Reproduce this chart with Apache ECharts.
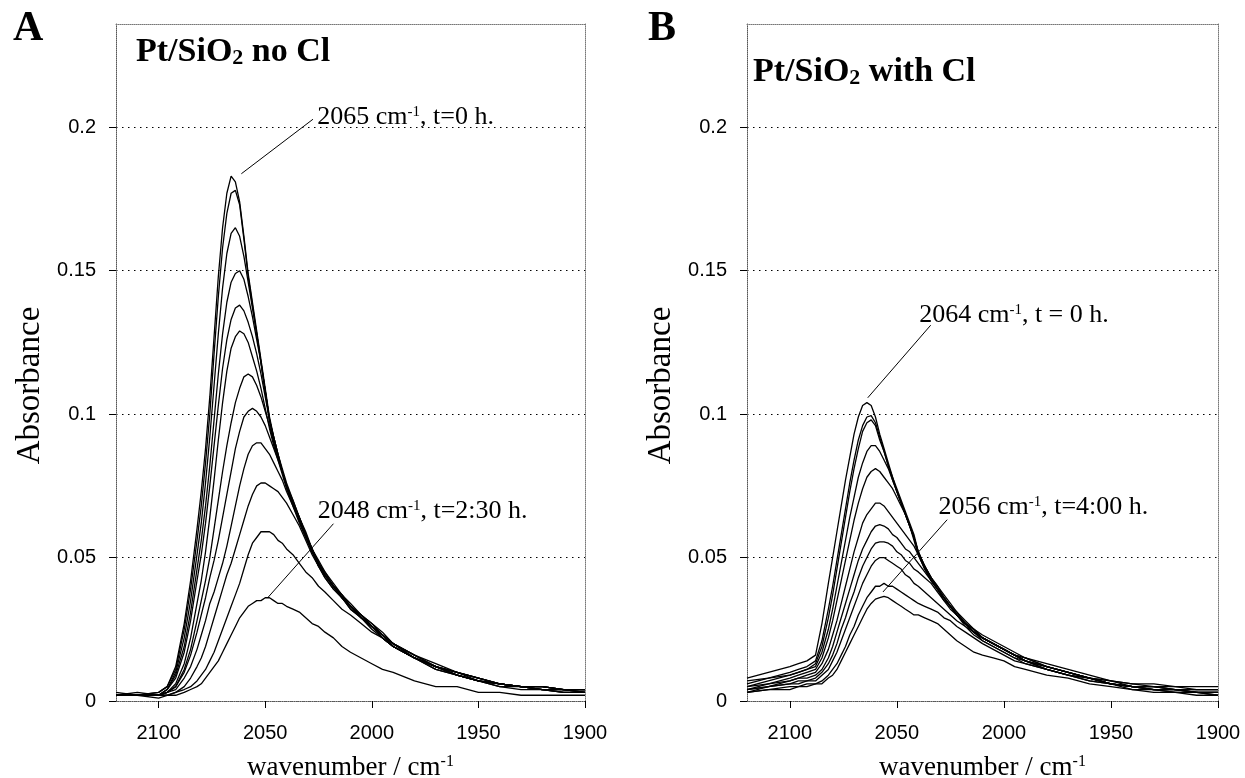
<!DOCTYPE html>
<html><head><meta charset="utf-8">
<script src="https://cdn.jsdelivr.net/npm/echarts@6/dist/echarts.min.js"></script>
<style>html,body{margin:0;padding:0;background:#fff}#c{width:1245px;height:778px}</style>
</head><body><div id="c"></div>
<script>
// shared wavenumber grid (cm-1)
const WN = [2120,2110,2100,2096,2092,2088,2085,2082,2080,2078,2076,2074,2072,2070,2068,2066,2064,2062,2060,2058,2056,2054,2052,2050,2048,2046,2044,2042,2040,2037,2034,2031,2028,2025,2022,2018,2014,2010,2005,2000,1995,1990,1980,1970,1960,1950,1940,1930,1920,1910,1900];

// Panel A: Pt/SiO2 no Cl (absorbance, t = 0 ... 2:30 h)
const A1 = [0.002,0.002,0.003,0.005,0.012,0.027,0.042,0.060,0.073,0.088,0.106,0.127,0.148,0.165,0.177,0.183,0.181,0.174,0.162,0.149,0.139,0.129,0.119,0.109,0.099,0.092,0.086,0.081,0.076,0.070,0.064,0.059,0.053,0.049,0.045,0.041,0.037,0.034,0.030,0.027,0.024,0.020,0.016,0.013,0.010,0.008,0.006,0.005,0.005,0.004,0.004];
const A2 = [0.003,0.002,0.003,0.005,0.011,0.025,0.039,0.056,0.068,0.083,0.100,0.121,0.141,0.158,0.170,0.177,0.178,0.173,0.161,0.148,0.138,0.128,0.118,0.108,0.098,0.091,0.085,0.080,0.075,0.069,0.063,0.058,0.052,0.048,0.044,0.040,0.036,0.033,0.029,0.026,0.023,0.019,0.015,0.012,0.009,0.007,0.006,0.005,0.004,0.004,0.003];
const A3 = [0.002,0.003,0.002,0.004,0.010,0.022,0.035,0.051,0.062,0.076,0.092,0.110,0.128,0.144,0.156,0.163,0.165,0.162,0.155,0.146,0.137,0.128,0.118,0.108,0.098,0.092,0.086,0.080,0.075,0.069,0.064,0.058,0.053,0.048,0.044,0.040,0.037,0.033,0.030,0.026,0.023,0.020,0.016,0.012,0.010,0.008,0.006,0.005,0.005,0.004,0.004];
const A4 = [0.002,0.002,0.002,0.004,0.009,0.019,0.031,0.046,0.056,0.068,0.082,0.098,0.114,0.128,0.139,0.146,0.149,0.150,0.147,0.141,0.134,0.126,0.118,0.108,0.098,0.091,0.085,0.080,0.075,0.069,0.063,0.058,0.052,0.048,0.044,0.040,0.036,0.033,0.029,0.026,0.022,0.019,0.015,0.012,0.009,0.007,0.006,0.005,0.004,0.004,0.003];
const A5 = [0.002,0.002,0.002,0.004,0.008,0.017,0.028,0.042,0.051,0.062,0.075,0.089,0.103,0.116,0.126,0.133,0.137,0.138,0.136,0.132,0.127,0.121,0.114,0.106,0.098,0.092,0.086,0.080,0.075,0.070,0.064,0.058,0.053,0.048,0.044,0.040,0.037,0.033,0.030,0.026,0.023,0.020,0.015,0.012,0.010,0.008,0.006,0.005,0.005,0.004,0.004];
const A6 = [0.002,0.002,0.002,0.003,0.006,0.013,0.022,0.034,0.042,0.052,0.064,0.077,0.091,0.104,0.115,0.123,0.127,0.129,0.128,0.125,0.120,0.115,0.109,0.102,0.095,0.089,0.084,0.079,0.074,0.068,0.063,0.057,0.052,0.047,0.043,0.039,0.036,0.032,0.029,0.025,0.022,0.019,0.015,0.011,0.009,0.007,0.005,0.004,0.004,0.003,0.003];
const A7 = [0.002,0.002,0.002,0.003,0.005,0.011,0.018,0.028,0.035,0.042,0.050,0.060,0.070,0.080,0.089,0.097,0.104,0.109,0.113,0.114,0.113,0.110,0.106,0.101,0.096,0.090,0.085,0.080,0.075,0.069,0.064,0.058,0.053,0.048,0.045,0.040,0.037,0.033,0.030,0.027,0.023,0.020,0.016,0.012,0.010,0.007,0.006,0.005,0.005,0.004,0.004];
const A8 = [0.002,0.002,0.002,0.003,0.005,0.010,0.016,0.024,0.030,0.036,0.043,0.049,0.056,0.064,0.072,0.080,0.088,0.094,0.099,0.101,0.102,0.101,0.099,0.096,0.092,0.088,0.084,0.080,0.075,0.069,0.063,0.058,0.052,0.048,0.044,0.040,0.036,0.033,0.029,0.026,0.023,0.019,0.015,0.012,0.009,0.007,0.005,0.005,0.004,0.003,0.003];
const A9 = [0.002,0.002,0.002,0.003,0.004,0.008,0.012,0.018,0.023,0.028,0.034,0.038,0.043,0.048,0.054,0.061,0.068,0.075,0.081,0.086,0.089,0.090,0.090,0.088,0.086,0.083,0.080,0.077,0.073,0.068,0.062,0.057,0.052,0.047,0.044,0.040,0.036,0.033,0.029,0.026,0.023,0.020,0.015,0.012,0.009,0.007,0.006,0.005,0.004,0.004,0.003];
const A10 = [0.002,0.002,0.002,0.002,0.003,0.005,0.008,0.012,0.015,0.019,0.024,0.029,0.034,0.039,0.044,0.048,0.053,0.058,0.063,0.068,0.072,0.075,0.076,0.076,0.075,0.074,0.073,0.071,0.069,0.065,0.061,0.056,0.051,0.047,0.043,0.039,0.036,0.032,0.029,0.026,0.022,0.019,0.015,0.011,0.009,0.007,0.006,0.005,0.004,0.003,0.003];
const A11 = [0.002,0.002,0.002,0.002,0.003,0.004,0.005,0.007,0.009,0.011,0.014,0.017,0.021,0.025,0.029,0.033,0.037,0.041,0.046,0.051,0.055,0.057,0.059,0.059,0.059,0.058,0.056,0.055,0.053,0.051,0.048,0.045,0.043,0.040,0.038,0.035,0.032,0.030,0.027,0.024,0.022,0.019,0.015,0.012,0.010,0.008,0.006,0.005,0.005,0.004,0.004];
const A12 = [0.002,0.002,0.001,0.002,0.002,0.003,0.004,0.005,0.006,0.008,0.010,0.012,0.014,0.017,0.020,0.023,0.026,0.029,0.031,0.033,0.034,0.035,0.035,0.036,0.036,0.035,0.034,0.034,0.033,0.032,0.031,0.029,0.027,0.026,0.024,0.022,0.019,0.017,0.015,0.013,0.011,0.010,0.007,0.005,0.005,0.003,0.003,0.002,0.002,0.002,0.002];

// Panel B: Pt/SiO2 with Cl (absorbance, t = 0 ... 4:00 h)
const B1 = [0.008,0.010,0.012,0.013,0.014,0.016,0.027,0.041,0.050,0.059,0.068,0.077,0.085,0.093,0.099,0.103,0.104,0.103,0.099,0.093,0.088,0.083,0.078,0.074,0.070,0.066,0.062,0.058,0.052,0.047,0.043,0.040,0.037,0.034,0.031,0.028,0.025,0.023,0.021,0.019,0.017,0.015,0.013,0.011,0.009,0.007,0.006,0.006,0.005,0.005,0.005];
const B2 = [0.007,0.008,0.010,0.011,0.012,0.014,0.021,0.032,0.040,0.049,0.058,0.067,0.076,0.084,0.091,0.096,0.099,0.0995,0.097,0.092,0.087,0.082,0.077,0.073,0.069,0.065,0.061,0.057,0.051,0.046,0.042,0.039,0.036,0.033,0.030,0.027,0.024,0.022,0.020,0.018,0.016,0.014,0.012,0.010,0.008,0.006,0.005,0.005,0.004,0.004,0.004];
const B3 = [0.005,0.007,0.009,0.010,0.011,0.013,0.019,0.029,0.037,0.046,0.055,0.064,0.073,0.081,0.088,0.094,0.097,0.098,0.096,0.091,0.087,0.082,0.078,0.073,0.069,0.065,0.061,0.056,0.051,0.046,0.042,0.039,0.035,0.032,0.030,0.026,0.024,0.021,0.019,0.017,0.015,0.013,0.011,0.009,0.007,0.006,0.004,0.004,0.003,0.003,0.002];
const B4 = [0.006,0.008,0.009,0.010,0.011,0.012,0.017,0.025,0.032,0.040,0.048,0.056,0.064,0.071,0.078,0.083,0.087,0.089,0.089,0.087,0.084,0.081,0.077,0.073,0.069,0.065,0.061,0.057,0.052,0.047,0.043,0.040,0.036,0.033,0.031,0.027,0.025,0.022,0.020,0.018,0.016,0.015,0.012,0.010,0.008,0.007,0.005,0.005,0.004,0.003,0.003];
const B5 = [0.004,0.006,0.008,0.009,0.010,0.011,0.015,0.022,0.028,0.035,0.042,0.049,0.056,0.063,0.069,0.074,0.078,0.080,0.081,0.080,0.078,0.076,0.074,0.071,0.068,0.065,0.061,0.057,0.052,0.047,0.043,0.039,0.036,0.033,0.030,0.027,0.024,0.022,0.020,0.018,0.016,0.014,0.011,0.009,0.008,0.006,0.005,0.004,0.004,0.003,0.003];
const B6 = [0.005,0.006,0.007,0.008,0.009,0.010,0.013,0.018,0.023,0.028,0.034,0.040,0.046,0.052,0.057,0.062,0.065,0.067,0.069,0.069,0.068,0.066,0.064,0.062,0.060,0.058,0.056,0.054,0.051,0.047,0.042,0.039,0.036,0.033,0.030,0.027,0.024,0.022,0.020,0.018,0.016,0.014,0.012,0.010,0.008,0.006,0.005,0.005,0.004,0.004,0.004];
const B7 = [0.004,0.005,0.007,0.008,0.008,0.009,0.011,0.015,0.019,0.024,0.029,0.034,0.039,0.044,0.049,0.053,0.056,0.059,0.061,0.0615,0.061,0.060,0.058,0.057,0.055,0.053,0.052,0.050,0.048,0.045,0.042,0.039,0.036,0.033,0.030,0.027,0.025,0.022,0.020,0.018,0.016,0.015,0.012,0.010,0.008,0.007,0.006,0.005,0.005,0.004,0.004];
const B8 = [0.003,0.005,0.006,0.007,0.007,0.008,0.010,0.013,0.016,0.020,0.025,0.029,0.034,0.038,0.043,0.047,0.050,0.053,0.055,0.0555,0.0555,0.055,0.054,0.052,0.051,0.049,0.048,0.046,0.045,0.043,0.041,0.038,0.035,0.033,0.030,0.027,0.024,0.022,0.020,0.018,0.016,0.014,0.012,0.010,0.008,0.006,0.005,0.004,0.004,0.003,0.003];
const B9 = [0.004,0.005,0.006,0.006,0.007,0.007,0.009,0.011,0.014,0.017,0.021,0.025,0.029,0.033,0.037,0.041,0.044,0.047,0.049,0.050,0.050,0.049,0.048,0.047,0.046,0.044,0.043,0.041,0.040,0.038,0.036,0.034,0.032,0.030,0.028,0.026,0.023,0.021,0.019,0.017,0.015,0.014,0.011,0.009,0.008,0.006,0.005,0.004,0.003,0.003,0.002];
const B10 = [0.003,0.004,0.005,0.005,0.006,0.006,0.007,0.009,0.011,0.013,0.016,0.019,0.023,0.026,0.030,0.033,0.036,0.038,0.040,0.040,0.041,0.040,0.040,0.039,0.038,0.037,0.036,0.035,0.034,0.033,0.032,0.031,0.029,0.028,0.026,0.024,0.022,0.020,0.018,0.016,0.014,0.013,0.011,0.009,0.007,0.006,0.005,0.004,0.004,0.003,0.003];
const B11 = [0.003,0.004,0.004,0.005,0.005,0.006,0.006,0.008,0.009,0.011,0.014,0.017,0.020,0.023,0.026,0.029,0.032,0.034,0.0355,0.036,0.0365,0.036,0.035,0.034,0.033,0.032,0.031,0.030,0.030,0.029,0.028,0.027,0.025,0.023,0.021,0.019,0.017,0.016,0.015,0.014,0.012,0.011,0.009,0.008,0.006,0.005,0.004,0.003,0.003,0.002,0.002];

const PANEL_A = [A1,A2,A3,A4,A5,A6,A7,A8,A9,A10,A11,A12];
const PANEL_B = [B1,B2,B3,B4,B5,B6,B7,B8,B9,B10,B11];

// axis ranges and tick labels
const X_MIN = 1900, X_MAX = 2120, X_STEP = 50;
const Y_MIN = 0, Y_MAX = 0.236, Y_STEP = 0.05;
const X_TICKS = [2100,2050,2000,1950,1900];
const Y_TICKS = [0,0.05,0.1,0.15,0.2];

// annotations (data coordinates)
const ANNOT_A = [
  {text:['2065 cm','-1',', t=0 h.'], at:[2025.6,0.2035], from:[2061.2,0.1838], to:[2027.6,0.2028]},
  {text:['2048 cm','-1',', t=2:30 h.'], at:[2025.4,0.0662], from:[2048.6,0.0362], to:[2018.0,0.0618]}
];
const ANNOT_B = [
  {text:['2064 cm','-1',', t = 0 h.'], at:[2039.6,0.1345], from:[2063.6,0.1057], to:[2034.2,0.1310]},
  {text:['2056 cm','-1',', t=4:00 h.'], at:[2030.6,0.0675], from:[2056.5,0.0380], to:[2026.5,0.0632]}
];

const SERIF = 'Liberation Serif';
const SANS = 'Liberation Sans';

function mainX(gi){
  return {gridIndex:gi, type:'value', min:X_MIN, max:X_MAX, interval:X_STEP, inverse:true, position:'bottom',
    axisLine:{show:true, onZero:false, lineStyle:{color:'#555', type:'dotted', width:1}},
    axisTick:{show:true, length:7, customValues:X_TICKS, lineStyle:{color:'#000'}},
    axisLabel:{fontFamily:SANS, fontSize:20, color:'#000', margin:22, customValues:X_TICKS,
      formatter:v => String(v)},
    splitLine:{show:false},
    name:'{n|wavenumber / cm}{s|-1}', nameLocation:'middle', nameGap:53,
    nameTextStyle:{rich:{n:{fontFamily:SERIF, fontSize:27, color:'#000'}, s:{fontFamily:SERIF, fontSize:16, color:'#000', verticalAlign:'top'}}}
  };
}
function topX(gi){
  return {gridIndex:gi, type:'value', min:X_MIN, max:X_MAX, inverse:true, position:'top',
    axisLine:{show:true, onZero:false, lineStyle:{color:'#777', type:'dotted', width:1}},
    axisTick:{show:false}, axisLabel:{show:false}, splitLine:{show:false}};
}
function mainY(gi){
  return {gridIndex:gi, type:'value', min:Y_MIN, max:Y_MAX, interval:Y_STEP, position:'left',
    axisLine:{show:true, onZero:false, lineStyle:{color:'#555', type:'dotted', width:1}},
    axisTick:{show:true, length:7, customValues:Y_TICKS, lineStyle:{color:'#000'}},
    axisLabel:{fontFamily:SANS, fontSize:20, color:'#000', margin:20, customValues:Y_TICKS,
      formatter:v => String(+(+v).toFixed(2))},
    splitLine:{show:true, lineStyle:{color:'#000', type:[1.5,4.5], width:1}},
    name:'Absorbance', nameLocation:'middle', nameGap:69, nameRotate:90,
    nameTextStyle:{fontFamily:SERIF, fontSize:33, color:'#000', padding:[0,46,0,0]}
  };
}
function rightY(gi){
  return {gridIndex:gi, type:'value', min:Y_MIN, max:Y_MAX, position:'right',
    axisLine:{show:true, onZero:false, lineStyle:{color:'#777', type:'dotted', width:1}},
    axisTick:{show:false}, axisLabel:{show:false}, splitLine:{show:false}};
}

function annotations(list){
  const rich = {n:{fontFamily:SERIF, fontSize:26, color:'#000'}, s:{fontFamily:SERIF, fontSize:15, color:'#000', verticalAlign:'top'}};
  return {
    markPoint:{silent:true, animation:false, data:list.map(a => ({coord:a.at, symbol:'circle', symbolSize:0,
      label:{show:true, position:'right', distance:0, formatter:'{n|'+a.text[0]+'}{s|'+a.text[1]+'}{n|'+a.text[2]+'}', rich:rich}}))},
    markLine:{silent:true, animation:false, symbol:['none','none'], label:{show:false},
      lineStyle:{color:'#000', type:'solid', width:1},
      data:list.map(a => [{coord:a.from},{coord:a.to}])}
  };
}

function curves(panel, xi, yi, ann){
  return panel.map((arr, k) => Object.assign({
    type:'line', xAxisIndex:xi, yAxisIndex:yi, showSymbol:false, silent:true, animation:false,
    lineStyle:{color:'#000', width:1.3}, z:3,
    data: WN.map((w,i) => [w, arr[i]])
  }, k === 0 ? annotations(ann) : {}));
}

const chart = echarts.init(document.getElementById('c'), null, {renderer:'canvas'});
chart.setOption({
  backgroundColor:'#fff',
  animation:false,
  title:[
    {text:'A', left:8, top:3, textStyle:{fontFamily:SERIF, fontWeight:'bold', fontSize:42, color:'#000'}},
    {text:'{t|Pt/SiO}{b|2}{t| no Cl}', left:131, top:30, textStyle:{rich:{t:{fontFamily:SERIF, fontWeight:'bold', fontSize:34, color:'#000'}, b:{fontFamily:SERIF, fontWeight:'bold', fontSize:22, color:'#000', verticalAlign:'bottom'}}}},
    {text:'B', left:643, top:3, textStyle:{fontFamily:SERIF, fontWeight:'bold', fontSize:42, color:'#000'}},
    {text:'{t|Pt/SiO}{b|2}{t| with Cl}', left:748, top:50, textStyle:{rich:{t:{fontFamily:SERIF, fontWeight:'bold', fontSize:34, color:'#000'}, b:{fontFamily:SERIF, fontWeight:'bold', fontSize:22, color:'#000', verticalAlign:'bottom'}}}}
  ],
  grid:[
    {left:116, top:24, width:469, height:677, outerBoundsMode:'none', containLabel:false},
    {left:747, top:24, width:471, height:677, outerBoundsMode:'none', containLabel:false}
  ],
  xAxis:[mainX(0), topX(0), mainX(1), topX(1)],
  yAxis:[mainY(0), rightY(0), mainY(1), rightY(1)],
  series:[].concat(curves(PANEL_A, 0, 0, ANNOT_A), curves(PANEL_B, 2, 2, ANNOT_B))
});
</script></body></html>
